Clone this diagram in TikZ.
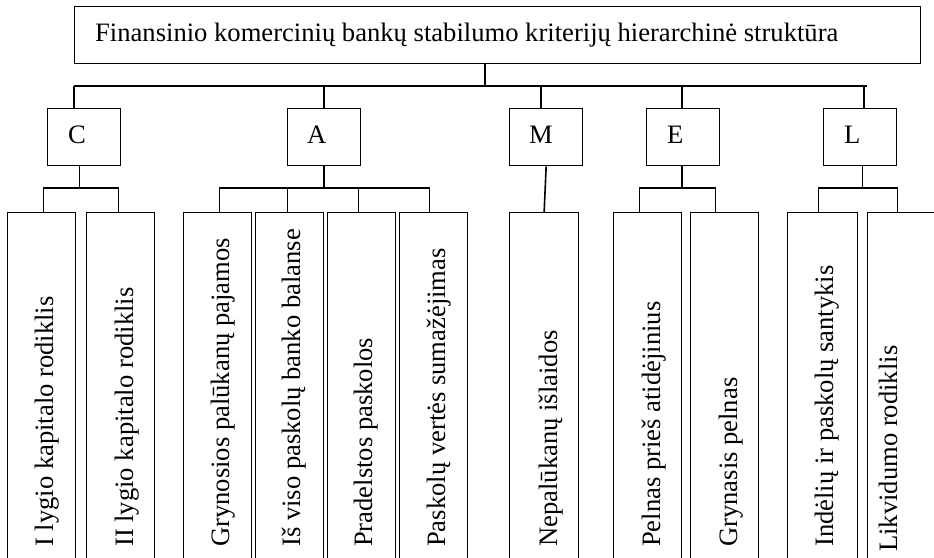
\documentclass[tikz,border=0pt]{standalone}
\usepackage{fontspec}
\setmainfont{Liberation Serif}
\begin{document}
\begin{tikzpicture}[x=1pt,y=-1pt,
  frame/.style={draw, line width=1.3pt, inner sep=0pt, anchor=north west},
  topbox/.style={frame, minimum width=73pt, minimum height=57pt},
  leafbox/.style={frame, minimum width=68pt, minimum height=360pt},
  wire/.style={line width=1.6pt},
  lbl/.style={inner sep=0pt, font=\fontsize{26.6}{30}\selectfont},
  hlbl/.style={lbl, anchor=base west},
  vlbl/.style={lbl, anchor=base west, rotate=90}]
\useasboundingbox (0,0) rectangle (934,557);
\clip (0,0) rectangle (934,557);

% root
\node[frame, minimum width=846pt, minimum height=57pt] (title) at (74,6) {};
\node[hlbl] (titletxt) at (95,41) {Finansinio komercinių bankų stabilumo kriterijų hierarchinė struktūra};

% CAMEL groups
\node[topbox] (C) at (47,108) {};
\node[topbox] (A) at (287,108) {};
\node[topbox] (M) at (509,108) {};
\node[topbox] (E) at (646,108) {};
\node[topbox] (L) at (823,108) {};
\node[hlbl] (Ct) at (68,143) {C};
\node[hlbl] (At) at (307,143) {A};
\node[hlbl] (Mt) at (529,143) {M};
\node[hlbl] (Et) at (667,143) {E};
\node[hlbl] (Lt) at (844,143) {L};

% indicators
\node[leafbox] (c1) at (7,212) {};
\node[leafbox] (c2) at (86,212) {};
\node[leafbox] (a1) at (183,212) {};
\node[leafbox] (a2) at (255,212) {};
\node[leafbox] (a3) at (327,212) {};
\node[leafbox] (a4) at (399,212) {};
\node[leafbox, minimum width=69pt] (m1) at (509,212) {};
\node[leafbox] (e1) at (613,212) {};
\node[leafbox] (e2) at (690,212) {};
\node[leafbox, minimum width=70pt] (l1) at (787,212) {};
\node[leafbox, minimum width=70pt] (l2) at (867,212) {};

\node[vlbl] (c1t) at (53,547) {I lygio kapitalo rodiklis};
\node[vlbl] (c2t) at (133,547) {II lygio kapitalo rodiklis};
\node[vlbl] (a1t) at (229,547) {Grynosios palūkanų pajamos};
\node[vlbl] (a2t) at (300,547) {Iš viso paskolų banko balanse};
\node[vlbl] (a3t) at (372,547) {Pradelstos paskolos};
\node[vlbl] (a4t) at (445,547) {Paskolų vertės sumažėjimas};
\node[vlbl] (m1t) at (557,547) {Nepalūkanų išlaidos};
\node[vlbl] (e1t) at (660,547) {Pelnas prieš atidėjinius};
\node[vlbl] (e2t) at (737,547) {Grynasis pelnas};
\node[vlbl] (l1t) at (833,547) {Indėlių ir paskolų santykis};
\node[vlbl] (l2t) at (897,552) {Likvidumo rodiklis};

% main bus
\coordinate (stem) at (485,86);
\coordinate (busL) at (74,86);
\coordinate (busR) at (867,86);
\draw[wire] (title.south -| stem) -- (stem);
\draw[wire] (busL) -- (busR);
\draw[wire] (busL) -- (busL |- C.north);
\draw[wire] (A.north) ++(0,-22) -- (A.north);
\draw[wire] ([xshift=-5pt]M.north) -- ++(0,-22);
\draw[wire] ([xshift=-1pt]E.north) -- ++(0,-22);
\draw[wire] ([xshift=-3pt]busR) -- ([xshift=-3pt]busR |- L.north);

% C branch
\draw[wire] ([xshift=-4.5pt]C.south) -- ++(0,23);
\draw[wire] ([xshift=2pt]c1.north) -- ++(0,-24) -| ([xshift=-2pt]c2.north);
% A branch
\draw[wire] (A.south) -- ++(0,23);
\draw[wire] ([xshift=2pt]a1.north) -- ++(0,-24) -| ([xshift=-4pt]a4.north);
\draw[wire] ([xshift=-2pt]a2.north) -- ++(0,-24);
\draw[wire] ([xshift=-3pt]a3.north) -- ++(0,-24);
% M branch
\draw[wire] (M.south) -- (m1.north);
% E branch
\draw[wire] ([xshift=-1pt]E.south) -- ++(0,23);
\draw[wire] ([xshift=-8pt]e1.north) -- ++(0,-24) -| ([xshift=-9pt]e2.north);
% L branch
\draw[wire] ([xshift=2.5pt]L.south) -- ++(0,23);
\draw[wire] ([xshift=-4pt]l1.north) -- ++(0,-24) -| ([xshift=-5pt]l2.north);
\end{tikzpicture}
\end{document}
